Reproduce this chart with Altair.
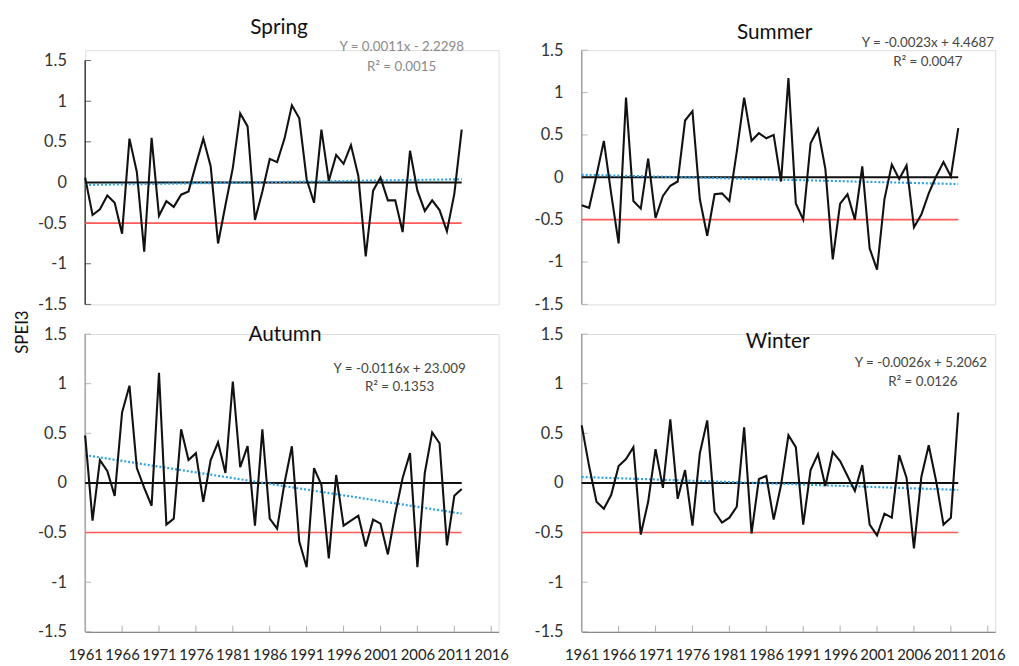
import altair as alt
import pandas as pd

# ---------------- data ----------------
years = list(range(1961, 2013))

spring = [0.06, -0.40, -0.33, -0.16, -0.25, -0.63, 0.54, 0.13, -0.85, 0.55,
          -0.41, -0.23, -0.30, -0.15, -0.11, 0.22, 0.54, 0.20, -0.75, -0.28,
          0.18, 0.85, 0.69, -0.46, -0.11, 0.29, 0.25, 0.54, 0.95, 0.79,
          0.04, -0.25, 0.65, 0.02, 0.34, 0.23, 0.46, 0.08, -0.91, -0.10,
          0.06, -0.22, -0.22, -0.61, 0.39, -0.10, -0.35, -0.22, -0.34, -0.60,
          -0.14, 0.65]

summer = [-0.33, -0.36, 0.02, 0.43, -0.20, -0.78, 0.94, -0.28, -0.37, 0.22,
          -0.48, -0.22, -0.10, -0.05, 0.67, 0.78, -0.26, -0.69, -0.20, -0.19,
          -0.28, 0.30, 0.94, 0.43, 0.52, 0.46, 0.50, -0.05, 1.17, -0.31,
          -0.50, 0.40, 0.57, 0.10, -0.97, -0.31, -0.20, -0.50, 0.13, -0.84,
          -1.09, -0.26, 0.15, -0.02, 0.14, -0.59, -0.44, -0.19, 0.01, 0.18,
          0.01, 0.58]

autumn = [0.48, -0.38, 0.23, 0.12, -0.13, 0.71, 0.98, 0.15, -0.05, -0.23,
          1.11, -0.42, -0.36, 0.54, 0.23, 0.30, -0.19, 0.23, 0.41, 0.10,
          1.02, 0.16, 0.37, -0.43, 0.54, -0.36, -0.46, 0.00, 0.37, -0.59,
          -0.85, 0.15, -0.02, -0.76, 0.08, -0.43, -0.38, -0.33, -0.64, -0.37,
          -0.41, -0.72, -0.31, 0.05, 0.30, -0.85, 0.10, 0.51, 0.40, -0.63,
          -0.13, -0.06]

winter = [0.58, 0.17, -0.19, -0.26, -0.12, 0.17, 0.24, 0.36, -0.52, -0.19,
          0.34, -0.05, 0.64, -0.16, 0.13, -0.43, 0.30, 0.63, -0.29, -0.40,
          -0.35, -0.24, 0.56, -0.51, 0.04, 0.07, -0.37, -0.02, 0.48, 0.36,
          -0.42, 0.13, 0.29, -0.03, 0.31, 0.22, 0.07, -0.08, 0.18, -0.42,
          -0.53, -0.31, -0.35, 0.28, 0.05, -0.66, 0.06, 0.38, 0.02, -0.42,
          -0.35, 0.71]

seasons = ["Spring", "Summer", "Autumn", "Winter"]
equations = ["Y = 0.0011x - 2.2298", "Y = -0.0023x + 4.4687",
             "Y = -0.0116x + 23.009", "Y = -0.0026x + 5.2062"]
r_squared = ["R² = 0.0015", "R² = 0.0047", "R² = 0.1353", "R² = 0.0126"]
trend_start = [-0.03, 0.03, 0.28, 0.06]
trend_end = [0.04, -0.08, -0.31, -0.07]

y_ticks = [-1.5, -1, -0.5, 0, 0.5, 1, 1.5]
x_ticks = [1961, 1966, 1971, 1976, 1981, 1986, 1991, 1996, 2001, 2006, 2011, 2016]
zero_level = [0]
drought_level = [-0.5]
y_title = "SPEI3"

FONT = "Lato"
W = 418


def make_panel(i, values, height, y_top, show_x, title_xy, eq_xy, r2_xy,
               axis_color, eq_color, extra=None):
    xs = alt.Scale(domain=[1961, 2017], nice=False, zero=False)
    ys = alt.Scale(domain=[-1.5, y_top], nice=False, zero=False)
    if show_x:
        x_axis = alt.Axis(values=x_ticks, labelExpr="'' + datum.value", title=None,
                          grid=False, tickSize=0, labelPadding=16, labelFont=FONT,
                          labelFontSize=15, labelColor="#222", labelOverlap=False,
                          labelFlush=False, domainColor="#8a8a8a", domainWidth=1.2)
    else:
        x_axis = None
    y_axis = alt.Axis(values=y_ticks, labelExpr="'' + datum.value", title=None,
                      grid=False, tickSize=0, labelPadding=19, labelFont=FONT,
                      labelFontSize=16.5, labelColor="#333", domain=False,
                      labelOverlap=False, labelFlush=False)

    def X(f):
        return alt.X(f, scale=xs, axis=x_axis)

    def Y(f):
        return alt.Y(f, scale=ys, axis=y_axis)

    series = pd.DataFrame({"year": years, "spei": values})
    trend = pd.DataFrame({"year": [years[0], years[-1]],
                          "spei": [trend_start[i], trend_end[i]]})
    zero_df = pd.DataFrame({"start": [years[0]], "end": [years[-1]], "level": zero_level})
    red_df = pd.DataFrame({"start": [years[0]], "end": [years[-1]], "level": drought_level})
    yline = pd.DataFrame({"x": [years[0]], "lo": [min(y_ticks)], "hi": [max(y_ticks)]})

    layers = []
    layers.append(alt.Chart(yline).mark_rule(color=axis_color, strokeWidth=1.3).encode(
        x=X("x:Q"), y=Y("lo:Q"), y2="hi:Q"))
    layers.append(alt.Chart(pd.DataFrame({"v": y_ticks})).mark_tick(
        orient="horizontal", size=6, thickness=1, color=axis_color).encode(
        y=Y("v:Q"), x=alt.value(3)))
    if show_x:
        layers.append(alt.Chart(pd.DataFrame({"v": x_ticks[1:]})).mark_tick(
            orient="vertical", size=6, thickness=1, color="#8a8a8a").encode(
            x=X("v:Q"), y=alt.value(height - 3)))
    layers.append(alt.Chart(red_df).mark_rule(color="#ff5a5a", strokeWidth=1.6).encode(
        x=X("start:Q"), x2="end:Q", y=Y("level:Q")))
    layers.append(alt.Chart(zero_df).mark_rule(color="#111", strokeWidth=2).encode(
        x=X("start:Q"), x2="end:Q", y=Y("level:Q")))
    layers.append(alt.Chart(trend).mark_line(color="#2aa3e6", strokeWidth=2.2,
                                            strokeDash=[2, 2]).encode(
        x=X("year:Q"), y=Y("spei:Q")))
    layers.append(alt.Chart(series).mark_line(color="#111", strokeWidth=2.1).encode(
        x=X("year:Q"), y=Y("spei:Q")))
    layers.append(alt.Chart(pd.DataFrame({"t": [seasons[i]]})).mark_text(
        font=FONT, fontSize=21, color="#111", align="center", baseline="middle").encode(
        text="t:N", x=alt.value(title_xy[0]), y=alt.value(title_xy[1])))
    layers.append(alt.Chart(pd.DataFrame({"t": [equations[i]]})).mark_text(
        font=FONT, fontSize=13.5, color=eq_color, align="center", baseline="middle").encode(
        text="t:N", x=alt.value(eq_xy[0]), y=alt.value(eq_xy[1])))
    layers.append(alt.Chart(pd.DataFrame({"t": [r_squared[i]]})).mark_text(
        font=FONT, fontSize=13.5, color=eq_color, align="center", baseline="middle").encode(
        text="t:N", x=alt.value(r2_xy[0]), y=alt.value(r2_xy[1])))
    if extra is not None:
        layers.append(extra)
    return alt.layer(*layers).properties(width=W, height=height)


spei_label = alt.Chart(pd.DataFrame({"t": [y_title]})).mark_text(
    font=FONT, fontSize=17, color="#111", angle=270, align="center",
    baseline="middle").encode(text="t:N", x=alt.value(-63), y=alt.value(-2))

tl = make_panel(0, spring, 257, 1.628, False, (196, -22), (320, -3), (320, 17),
                "#222", "#8a8a8a")
tr = make_panel(1, summer, 257, 1.5, False, (195, -17), (350, -7), (350, 12),
                "#9a9a9a", "#444")
bl = make_panel(2, autumn, 301, 1.5, True, (202, 1), (318, 35), (318, 54),
                "#9a9a9a", "#444", extra=spei_label)
br = make_panel(3, winter, 301, 1.5, True, (198, 8), (343, 29), (345, 48),
                "#9a9a9a", "#444")

chart = alt.concat(tl, tr, bl, br, columns=2, spacing={"row": 30, "column": 84},
                   bounds="flush").properties(
    padding={"left": 5, "top": 5, "right": 5, "bottom": 5}
).configure_view(stroke=None).configure(background="white")

chart.save("out.html", embed_options={"renderer": "svg", "actions": False})
